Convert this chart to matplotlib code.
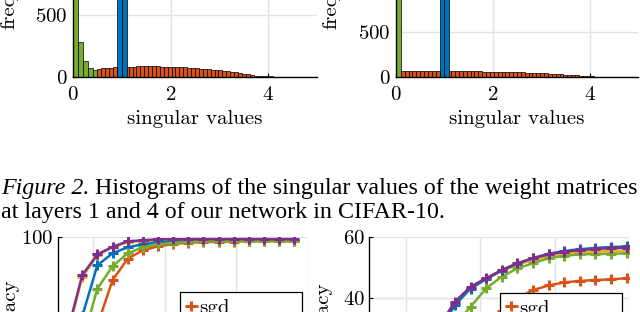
import numpy as np
import matplotlib
matplotlib.use('Agg')
import matplotlib.pyplot as plt

# matlab default colours
c_blue = '#0072BD'
c_orange = '#D95319'
c_yellow = '#EDB120'
c_purple = '#7E2F8E'
c_green = '#77AC30'
grid_c = '#e3e3e3'

# ---- histogram data (bin start, bin width, counts) ----
# layer 1
l1_green_start, l1_green_w = 0.0, 0.1
l1_green = [2500, 278, 122, 67, 49, 35]
l1_blue_start, l1_blue_w = 0.9, 0.1
l1_blue = [3000, 3000]
l1_orange_start, l1_orange_w = 0.5, 0.08
l1_orange = [57, 66, 70, 72, 74, 76, 77, 78, 80, 81,
             82, 83, 83, 83, 82, 82, 81, 80, 79, 78,
             77, 75, 73, 71, 69, 67, 64, 62, 59, 56,
             53, 50, 47, 43, 39, 35, 30, 24, 17, 9,
             4, 3, 2, 1, 1]
# layer 4
l4_green_start, l4_green_w = 0.0, 0.1
l4_green = [3000]
l4_blue_start, l4_blue_w = 0.9, 0.1
l4_blue = [3000, 3000]
l4_orange_start, l4_orange_w = 0.1, 0.08
l4_orange = [62, 63, 63, 63, 63, 62, 62, 62, 61, 61,
             60, 60,
             60, 59, 59, 58, 58, 57, 57, 56, 56, 55,
             54, 53, 52, 51, 50, 49, 48, 47, 46, 45,
             44, 42, 41, 39, 37, 35, 33, 30, 27, 24,
             21, 18, 15, 12, 9, 6, 4, 2]

# ---- accuracy curves ----
labels = ['sgd', 'sgd-orth', 'stiefel-sgd', 'grassmann', 'ours']
colors = [c_orange, c_yellow, c_blue, c_green, c_purple]

train_acc = [
    [20, 35, 56, 78.5, 89.3, 93.5, 95.5, 96.7, 97.3, 97.6, 97.8, 97.9, 98.0, 98.0, 98.0, 98.0],
    [50, 80, 91, 95, 97.5, 98.2, 98.5, 98.6, 98.7, 98.7, 98.8, 98.8, 98.8, 98.8, 98.8, 98.8],
    [35, 60.5, 86, 92, 95, 96.5, 97.5, 98, 98.3, 98.5, 98.6, 98.6, 98.7, 98.7, 98.7, 98.7],
    [25, 47.5, 74.3, 85.5, 92, 95, 96.5, 97.2, 97.7, 98, 98.1, 98.2, 98.3, 98.3, 98.3, 98.3],
    [52, 81, 91.5, 95.2, 98, 98.5, 99, 99, 99.1, 99.1, 99.1, 99.1, 99.1, 99.1, 99.1, 99.1],
]
test_acc = [
    [8, 11, 14, 17, 20, 23, 26, 31.5, 36, 40, 42.7, 44.2, 45.2, 45.7, 46.0, 46.2, 46.6],
    [11.5, 15.5, 20.5, 25.5, 30.5, 38.5, 43.5, 46.4, 49.0, 51.0, 52.6, 53.8, 54.6, 55.0, 55.3, 55.5, 55.6],
    [11, 15, 20, 25, 29.6, 37.8, 43.2, 46.3, 49.1, 51.4, 53.2, 54.6, 55.5, 56.1, 56.5, 56.8, 57.0],
    [6, 10, 14, 18, 23, 31.2, 37.2, 43.3, 47.1, 49.8, 51.5, 53.1, 53.9, 54.4, 54.5, 54.6, 54.75],
    [12, 16, 21, 26, 31, 38.9, 43.8, 46.6, 49.3, 51.5, 53.1, 54.4, 55.3, 55.8, 56.2, 56.4, 56.6],
]

caption_head = 'Figure 2.'
caption_1 = 'Histograms of the singular values of the weight matrices'
caption_2 = 'at layers 1 and 4 of our network in CIFAR-10.'

plt.rcParams['font.family'] = 'cmr10'
plt.rcParams['axes.formatter.use_mathtext'] = True
FS = 15

W, H = 640, 312
fig = plt.figure(figsize=(W / 100, H / 100), dpi=100)


def add_ax(left, right, top, height):
    return fig.add_axes([left / W, 1 - (top + height) / H, (right - left) / W, height / H])


def style(ax):
    for s in ['top', 'right']:
        ax.spines[s].set_visible(False)
    ax.spines['left'].set_linewidth(1.0)
    ax.spines['bottom'].set_linewidth(1.0)
    ax.tick_params(direction='in', length=3, width=0.8, labelsize=FS, pad=4)
    ax.grid(True, color=grid_c, lw=1.0)
    ax.set_axisbelow(True)


def hist(ax, start, w, counts, color):
    edges = start + w * np.arange(len(counts))
    ax.bar(edges, counts, width=w, align='edge', color=color, edgecolor='k', lw=0.5)


# ---- top histograms ----
hh = 140
ax1 = add_ax(73, 317, 76.5 - hh, hh)
hist(ax1, l1_green_start, l1_green_w, l1_green, c_green)
hist(ax1, l1_orange_start, l1_orange_w, l1_orange, c_orange)
hist(ax1, l1_blue_start, l1_blue_w, l1_blue, c_blue)
ax1.set_ylim(0, 1134)

ax2 = add_ax(396, 638, 76.5 - hh, hh)
hist(ax2, l4_green_start, l4_green_w, l4_green, c_green)
hist(ax2, l4_orange_start, l4_orange_w, l4_orange, c_orange)
hist(ax2, l4_blue_start, l4_blue_w, l4_blue, c_blue)
ax2.set_ylim(0, 1556)

for ax in (ax1, ax2):
    style(ax)
    ax.set_xlim(0, 5)
    ax.set_xticks([0, 2, 4])
    ax.set_yticks([0, 500, 1000])
    ax.tick_params(axis='x', pad=7)
    ax.set_xlabel('singular values', fontsize=FS, labelpad=4)

fig.text(14 / W, 1 - 29 / H, 'frequency', fontsize=FS, rotation=90,
         rotation_mode='anchor', ha='left', va='baseline')
fig.text(336 / W, 1 - 29 / H, 'frequency', fontsize=FS, rotation=90,
         rotation_mode='anchor', ha='left', va='baseline')

# ---- caption ----
cap_kw = dict(family='Liberation Serif', fontsize=17.3, va='baseline')
head = fig.text(1 / W, 1 - 194 / H, caption_head, fontstyle='italic', **cap_kw)
fig.text(1 / W, 1 - 218 / H, caption_2, **cap_kw)
renderer = fig.canvas.get_renderer()
hw = head.get_window_extent(renderer).width
fig.text((1 + hw + 6) / W, 1 - 194 / H, caption_1, **cap_kw)

# ---- accuracy plots ----
ax3 = add_ax(57.5, 308, 237.3, 140)
ax4 = add_ax(369, 629, 237.3, 140)

for ax, acc, xlim, ylim, yt, lab_anchor in [
        (ax3, train_acc, (-0.63, 15.9), (30, 100), [50, 100], (180, 292)),
        (ax4, test_acc, (-0.51, 16.15), (14.1, 60), [20, 40, 60], (500, 292.7))]:
    style(ax)
    for vals, c, lab in zip(acc, colors, labels):
        ep = np.arange(len(vals))
        ax.plot(ep, vals, color=c, lw=1.8, marker='+', ms=7, mew=2.2, label=lab)
    g = (xlim[1] - xlim[0]) / 3.5
    ax.set_xticks(xlim[1] - g * np.arange(3, -1, -1))
    ax.set_xlim(*xlim)
    ax.set_ylim(*ylim)
    ax.set_yticks(yt)
    ax.tick_params(pad=3)
    leg = ax.legend(loc='upper left', bbox_to_anchor=(lab_anchor[0] / W, 1 - lab_anchor[1] / H),
                    bbox_transform=fig.transFigure, borderaxespad=0, fontsize=FS,
                    handlelength=0.5, handletextpad=0.1, borderpad=0.3,
                    fancybox=False, framealpha=1, edgecolor='k')
    leg.get_frame().set_linewidth(0.9)

fig.text(16 / W, 1 - 280 / H, 'train accuracy', fontsize=FS, rotation=90,
         rotation_mode='anchor', ha='right', va='baseline')
fig.text(329 / W, 1 - 283 / H, 'test accuracy', fontsize=FS, rotation=90,
         rotation_mode='anchor', ha='right', va='baseline')

fig.savefig('out.png', dpi=100)
